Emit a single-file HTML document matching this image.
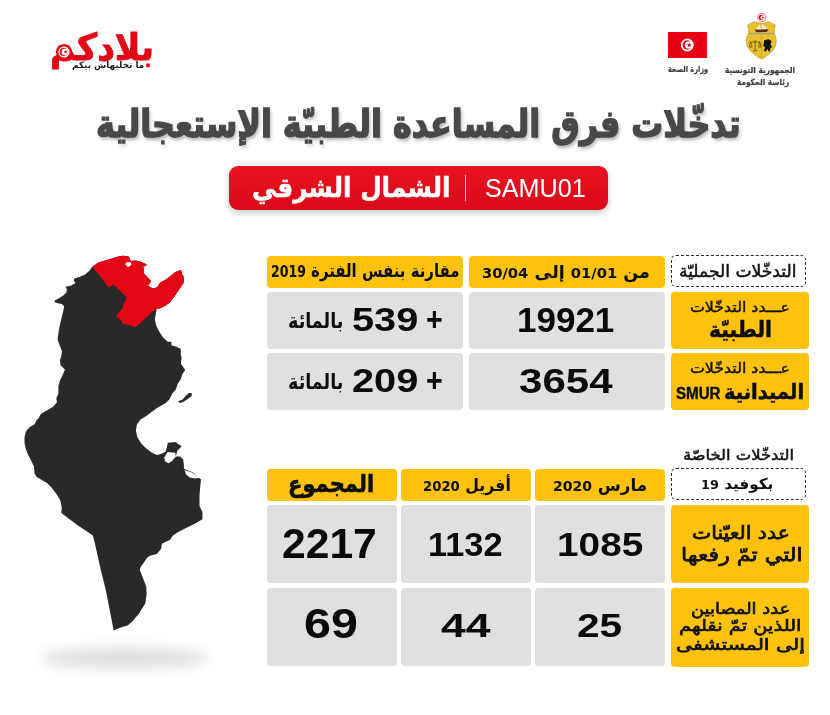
<!DOCTYPE html>
<html lang="ar">
<head>
<meta charset="utf-8">
<title>تدخّلات فرق المساعدة الطبيّة الإستعجالية</title>
<style>
*{margin:0;padding:0;box-sizing:border-box}
html,body{width:830px;height:715px;background:#fff;overflow:hidden}
body{position:relative;font-family:"Liberation Sans","DejaVu Sans",sans-serif;color:#111}
.abs{position:absolute}
.map{position:absolute;left:0;top:0}
.y{background:#fcc20e;border-radius:4px}
.g{background:#e0e0e0;border-radius:4px}
.dash{border:1px dashed #2a2a2a;border-radius:5px;background:#fff}
.t{position:absolute;white-space:nowrap;line-height:1.3;transform-origin:0 0}
.d{font-family:"DejaVu Sans","Liberation Sans",sans-serif;font-size:.84em;direction:ltr;unicode-bidi:isolate}
</style>
</head>
<body>
<svg class="map" width="830" height="715" viewBox="0 0 830 715">
<defs><filter id="bl" x="-30%" y="-150%" width="160%" height="400%"><feGaussianBlur stdDeviation="6.5"/></filter></defs>
<ellipse cx="125" cy="658" rx="84" ry="10" fill="#000" fill-opacity=".135" filter="url(#bl)"/>
<path fill="#292929" d="M92.3,266.7 L98.8,262.3 L106.0,260.2 L111.1,258.7 L118.3,256.6 L123.4,255.8 L128.4,256.6 L129.9,258.7 L130.6,260.9 L134.9,260.6 L139.3,261.2 L143.6,263.1 L146.8,264.5 L145.8,266.0 L142.2,266.7 L144.3,268.1 L143.6,270.3 L144.3,273.9 L147.9,277.5 L150.8,280.4 L150.1,283.3 L147.9,285.5 L150.8,287.6 L153.7,288.4 L157.3,286.9 L160.2,282.6 L165.3,279.7 L170.4,276.1 L174.7,272.5 L179.8,270.3 L181.9,271.0 L181.9,273.9 L183.4,276.1 L184.1,280.4 L183.4,283.3 L180.5,287.6 L176.9,292.7 L174.0,297.0 L171.1,300.7 L169.6,302.8 L165.3,305.7 L161.0,307.9 L156.6,309.3 L155.9,312.9 L155.2,317.3 L154.8,320.0 L156.3,325.8 L159.2,331.6 L162.8,337.3 L167.8,341.7 L171.4,341.7 L171.4,345.3 L176.5,346.7 L180.8,348.9 L180.8,354.7 L181.6,358.3 L180.8,363.4 L185.2,369.9 L182.3,374.2 L180.8,379.3 L177.9,383.6 L175.8,389.4 L172.2,393.7 L169.3,399.5 L165.7,403.1 L157.1,408.0 L151.3,412.3 L146.3,416.0 L140.5,419.6 L136.9,424.6 L135.9,430.4 L137.3,436.9 L141.2,443.4 L146.3,448.5 L152.0,452.8 L157.1,455.0 L162.2,453.6 L165.8,451.4 L167.9,442.7 L175.2,442.0 L181.7,446.3 L177.3,450.7 L175.9,456.4 L180.2,456.4 L183.1,459.3 L183.9,464.4 L183.9,468.7 L192.5,472.3 L200.5,478.9 L201.0,479.4 L200.2,487.3 L199.5,496.0 L199.5,506.1 L202.4,511.9 L202.4,519.2 L195.2,523.5 L186.5,527.8 L177.8,532.2 L172.8,535.8 L169.9,540.1 L164.8,542.3 L161.9,543.7 L161.2,548.8 L156.9,553.9 L148.9,556.0 L149.9,555.7 L147.0,557.8 L144.1,562.2 L140.5,567.2 L139.8,570.1 L141.9,575.2 L144.1,581.0 L146.3,586.7 L146.6,594.4 L145.4,603.3 L139.0,613.4 L132.7,621.0 L127.7,625.5 L121.3,627.3 L113.7,630.6 L105.8,589.9 L103.6,581.0 L100.7,569.4 L97.8,556.4 L94.9,543.4 L92.8,535.4 L86.3,531.1 L77.6,525.3 L68.9,518.8 L61.4,513.0 L61.7,507.2 L60.2,500.0 L59.9,499.5 L56.3,493.7 L51.9,487.9 L47.6,483.6 L41.8,480.0 L36.7,477.1 L34.6,473.5 L33.9,466.3 L31.0,460.5 L28.1,454.7 L25.9,448.9 L24.5,443.1 L24.5,437.3 L25.9,431.6 L29.5,427.2 L34.6,424.3 L36.7,420.0 L38.2,418.8 L41.1,413.7 L47.6,410.1 L53.4,406.5 L57.0,402.2 L56.3,398.6 L58.4,393.5 L58.4,386.3 L59.9,380.5 L62.8,374.7 L64.9,369.6 L60.6,365.3 L59.9,360.2 L61.3,355.9 L62.0,351.6 L59.9,345.8 L57.7,340.0 L57.9,336.6 L59.0,329.4 L60.5,322.2 L61.9,316.4 L63.4,310.6 L64.1,306.3 L61.9,304.1 L59.0,303.4 L54.7,302.2 L54.7,300.5 L59.0,298.3 L63.4,295.4 L66.3,292.5 L67.0,289.6 L65.5,286.7 L70.6,285.7 L75.7,283.1 L73.8,281.0 L74.2,278.5 L79.3,277.1 L85.1,274.5 L89.4,270.8Z"/>
<path fill="#292929" d="M177.9,401.2 L182.3,399.8 L185.2,396.6 L188.8,393.0 L191.7,393.0 L191.7,395.9 L188.1,398.8 L183.7,401.7 L180.1,403.1Z"/>
<path fill="#fff" d="M167.7,452.1 L175.2,452.8 L175.9,456.4 L172.3,460.8 L168.7,463.2 L165.1,461.5 L164.3,457.2Z"/>
<path fill="#fff" d="M184.6,469.9 L191.8,472.5 L199.8,477.7 L195.4,478.6 L189.6,477.4 L186.0,474.2Z"/>
<path fill="#e30615" d="M92.3,266.7 L98.8,262.3 L106.0,260.2 L111.1,258.7 L118.3,256.6 L123.4,255.8 L128.4,256.6 L129.9,258.7 L130.6,260.9 L134.9,260.6 L139.3,261.2 L143.6,263.1 L146.8,264.5 L145.8,266.0 L142.2,266.7 L144.3,268.1 L143.6,270.3 L144.3,273.9 L147.9,277.5 L150.8,280.4 L150.1,283.3 L147.9,285.5 L150.8,287.6 L153.7,288.4 L157.3,286.9 L160.2,282.6 L165.3,279.7 L170.4,276.1 L174.7,272.5 L179.8,270.3 L181.9,271.0 L181.9,273.9 L183.4,276.1 L184.1,280.4 L183.4,283.3 L180.5,287.6 L176.9,292.7 L174.0,297.0 L171.1,300.7 L169.6,302.8 L165.3,305.7 L161.0,307.9 L156.6,309.3 L152.3,311.5 L149.4,314.4 L145.8,318.0 L142.2,321.6 L137.8,325.2 L134.9,327.4 L130.6,325.2 L126.3,324.5 L122.6,323.8 L121.2,320.2 L116.1,316.6 L118.3,312.9 L121.9,309.3 L123.4,304.3 L126.3,299.2 L126.3,297.0 L122.6,293.4 L119.0,289.8 L114.7,285.5 L112.5,284.8 L109.6,287.6 L107.5,286.2 L103.9,281.1 L100.2,276.1 L95.9,271.0Z"/>
<path fill="#fff" d="M125.5,263.1 L127.7,262.1 L131.3,262.6 L131.3,264.5 L129.2,266.7 L127.0,266.4 L125.5,264.5Z"/>
</svg>
<!-- top-right logos -->
<svg class="abs" style="left:668px;top:32px" width="39" height="26" viewBox="0 0 39 26">
<rect width="39" height="26" fill="#e70013"/>
<circle cx="19.3" cy="13" r="6.4" fill="#fff"/>
<circle cx="19.3" cy="13" r="4.7" fill="#e70013"/>
<circle cx="20.6" cy="13" r="3.7" fill="#fff"/>
<path fill="#e70013" d="M21.2,10.4 L21.9,12.2 L23.8,12.2 L22.3,13.4 L22.9,15.3 L21.2,14.2 L19.6,15.3 L20.2,13.4 L18.7,12.2 L20.6,12.2Z"/>
</svg>
<svg class="abs" style="left:735px;top:5px" width="60" height="60" viewBox="0 0 715 715">
<circle cx="320" cy="150" r="48" fill="#fff" stroke="#ea3a4d" stroke-width="9"/>
<circle cx="316" cy="150" r="33" fill="#e70013"/>
<circle cx="328" cy="150" r="25" fill="#fff"/>
<circle cx="331" cy="150" r="11" fill="#e70013"/>
<path d="M150,240 L175,225 L230,200 L270,210 L320,222 L370,210 L400,200 L455,225 L480,240 L470,290 L468,330 L485,380 L492,430 L482,490 L450,545 L400,590 L350,625 L315,642 L280,625 L230,590 L180,545 L145,490 L133,430 L140,380 L163,330 L160,290Z" fill="#e8c02f" stroke="#c2a335" stroke-width="9" stroke-linejoin="round"/>
<path d="M245,288 L298,232 L308,288Z M316,288 L322,226 L398,282Z" fill="#e6e8ee"/>
<path d="M232,294 L398,290 L380,322 L256,324Z" fill="#5b2e1c"/>
<rect x="166" y="332" width="300" height="17" fill="#9aa385"/>
<path d="M315,352 L315,636" stroke="#b99c2e" stroke-width="7"/>
<path d="M185,440 L295,440 M240,418 L240,542 M185,440 L168,500 L206,500Z M295,440 L278,500 L314,500Z M214,546 L266,546" stroke="#2a2412" stroke-width="7" fill="none"/>
<path d="M345,420 L400,408 L436,430 L424,470 L440,500 L420,522 L416,556 L394,546 L386,520 L366,556 L344,546 L356,506 L334,480 L346,455Z" fill="#141210"/>
</svg>
<!-- emblem on top-left logo -->
<svg class="abs" style="left:54px;top:41.5px;z-index:5" width="20" height="20" viewBox="0 0 20 20">
<circle cx="10" cy="10" r="8" fill="#e30615"/>
<circle cx="10" cy="10" r="5.6" fill="#fff"/>
<circle cx="9.7" cy="10" r="4.1" fill="#e30615"/>
<circle cx="10.8" cy="10" r="3.2" fill="#fff"/>
<path fill="#e30615" d="M11.6,7.9 L12.1,9.3 L13.6,9.3 L12.4,10.2 L12.9,11.7 L11.6,10.8 L10.3,11.7 L10.8,10.2 L9.6,9.3 L11.1,9.3Z"/>
</svg>

<!-- red pill -->
<div class="abs" style="left:229px;top:166px;width:379px;height:44px;border-radius:9px;background:linear-gradient(#e9131f,#d90a1b);box-shadow:0 3px 6px rgba(0,0,0,.22)"></div>
<div class="abs" style="left:465px;top:175px;width:1px;height:26px;background:rgba(255,255,255,.75)"></div>
<!-- table 1 -->
<div class="abs dash" style="left:671px;top:255px;width:134.5px;height:32px"></div>
<div class="abs y" style="left:469px;top:255.5px;width:195.5px;height:32px"></div>
<div class="abs y" style="left:267px;top:255.5px;width:195.5px;height:32px"></div>
<div class="abs y" style="left:670.5px;top:291.5px;width:138px;height:57px"></div>
<div class="abs g" style="left:469px;top:291.5px;width:195.5px;height:57px"></div>
<div class="abs g" style="left:267px;top:291.5px;width:195.5px;height:57px"></div>
<div class="abs y" style="left:670.5px;top:352.5px;width:138px;height:57px"></div>
<div class="abs g" style="left:469px;top:352.5px;width:195.5px;height:57px"></div>
<div class="abs g" style="left:267px;top:352.5px;width:195.5px;height:57px"></div>
<!-- table 2 -->
<div class="abs dash" style="left:671px;top:468px;width:135px;height:32px"></div>
<div class="abs y" style="left:535px;top:468.5px;width:129.5px;height:32px"></div>
<div class="abs y" style="left:401px;top:468.5px;width:129.5px;height:32px"></div>
<div class="abs y" style="left:267px;top:468.5px;width:129.5px;height:32px"></div>
<div class="abs y" style="left:670.5px;top:505px;width:138.5px;height:78px"></div>
<div class="abs g" style="left:535px;top:505px;width:129.5px;height:78px"></div>
<div class="abs g" style="left:401px;top:505px;width:129.5px;height:78px"></div>
<div class="abs g" style="left:267px;top:505px;width:129.5px;height:78px"></div>
<div class="abs y" style="left:670.5px;top:587.5px;width:138.5px;height:79px"></div>
<div class="abs g" style="left:535px;top:587.5px;width:129.5px;height:78.5px"></div>
<div class="abs g" style="left:401px;top:587.5px;width:129.5px;height:78.5px"></div>
<div class="abs g" style="left:267px;top:587.5px;width:129.5px;height:78.5px"></div>
<div class="t" id="logo" style="left:49.50px;top:24.00px;font-family:'DejaVu Sans','Liberation Sans',sans-serif;font-size:37px;font-weight:bold;color:#e30615;direction:rtl;-webkit-text-stroke:1px #e30615;transform:scaleX(0.9326);">بلادكم</div>
<div class="t" id="tag" style="left:71.50px;top:59.50px;font-family:'DejaVu Sans','Liberation Sans',sans-serif;font-size:9px;font-weight:bold;color:#1c1c1c;direction:rtl;transform:scaleX(0.9819);">ما تخليهاش بيكم</div>
<div class="t" id="min" style="left:668.40px;top:64.30px;font-family:'DejaVu Sans','Liberation Sans',sans-serif;font-size:8.5px;font-weight:bold;color:#3a3a3a;direction:rtl;-webkit-text-stroke:.2px #3a3a3a;transform:scaleX(0.7751);">وزارة الصحة</div>
<div class="t" id="rep1" style="left:724.80px;top:64.80px;font-family:'DejaVu Sans','Liberation Sans',sans-serif;font-size:8.5px;font-weight:bold;color:#3a3a3a;direction:rtl;-webkit-text-stroke:.2px #3a3a3a;transform:scaleX(0.8713);">الجمهورية التونسية</div>
<div class="t" id="rep2" style="left:736.70px;top:76.80px;font-family:'DejaVu Sans','Liberation Sans',sans-serif;font-size:8.5px;font-weight:bold;color:#3a3a3a;direction:rtl;-webkit-text-stroke:.2px #3a3a3a;transform:scaleX(0.8587);">رئاسة الحكومة</div>
<div class="t" id="title" style="left:96.40px;top:100.00px;font-family:'DejaVu Sans','Liberation Sans',sans-serif;font-size:38px;font-weight:bold;color:#484848;direction:rtl;-webkit-text-stroke:1.5px #484848;text-shadow:2px 3px 4px rgba(0,0,0,.30);transform:scaleX(0.8365);">تدخّلات فرق المساعدة الطبيّة الإستعجالية</div>
<div class="t" id="region" style="left:252.00px;top:169.80px;font-family:'DejaVu Sans','Liberation Sans',sans-serif;font-size:27px;font-weight:bold;color:#fff;direction:rtl;-webkit-text-stroke:.5px #fff;transform:scaleX(0.9160);">الشمال الشرقي</div>
<div class="t" id="samu" style="left:485.00px;top:171.30px;font-family:'Liberation Sans','DejaVu Sans',sans-serif;font-size:26.5px;font-weight:normal;color:#fff;direction:ltr;transform:scaleX(0.9496);">SAMU01</div>
<div class="t" id="h1a" style="left:678.50px;top:259.60px;font-family:'DejaVu Sans','Liberation Sans',sans-serif;font-size:17px;font-weight:normal;color:#111;direction:rtl;-webkit-text-stroke:.5px #111;transform:scaleX(1.0078);">التدخّلات الجمليّة</div>
<div class="t" id="h1b" style="left:482.30px;top:261.40px;font-family:'DejaVu Sans','Liberation Sans',sans-serif;font-size:17px;font-weight:bold;color:#0d0d0d;direction:rtl;transform:scaleX(1.0310);">من <span class="d">01/01</span> إلى <span class="d">30/04</span></div>
<div class="t" id="h1c" style="left:270.50px;top:258.90px;font-family:'DejaVu Sans','Liberation Sans',sans-serif;font-size:18px;font-weight:bold;color:#0d0d0d;direction:rtl;transform:scaleX(0.8292);">مقارنة بنفس الفترة <span class="d">2019</span></div>
<div class="t" id="l1a" style="left:690.00px;top:298.00px;font-family:'DejaVu Sans','Liberation Sans',sans-serif;font-size:14px;font-weight:normal;color:#111;direction:rtl;-webkit-text-stroke:.4px #111;transform:scaleX(1.1285);">عـــدد التدخّلات</div>
<div class="t" id="l1b" style="left:708.70px;top:316.20px;font-family:'DejaVu Sans','Liberation Sans',sans-serif;font-size:22px;font-weight:bold;color:#0d0d0d;direction:rtl;-webkit-text-stroke:.5px #0d0d0d;transform:scaleX(0.9176);">الطبيّة</div>
<div class="t" id="l2a" style="left:690.00px;top:358.90px;font-family:'DejaVu Sans','Liberation Sans',sans-serif;font-size:14px;font-weight:normal;color:#111;direction:rtl;-webkit-text-stroke:.4px #111;transform:scaleX(1.1285);">عـــدد التدخّلات</div>
<div class="t" id="l2b" style="left:723.60px;top:379.00px;font-family:'DejaVu Sans','Liberation Sans',sans-serif;font-size:20.5px;font-weight:bold;color:#0d0d0d;direction:rtl;-webkit-text-stroke:.5px #0d0d0d;transform:scaleX(0.9513);">الميدانية</div>
<div class="t" id="l2c" style="left:675.50px;top:384.00px;font-family:'Liberation Sans','DejaVu Sans',sans-serif;font-size:15.8px;font-weight:bold;color:#0d0d0d;direction:ltr;-webkit-text-stroke:.4px #0d0d0d;transform:scaleX(0.9567);">SMUR</div>
<div class="t" id="v1" style="left:517.19px;top:297.80px;font-family:'Liberation Sans','DejaVu Sans',sans-serif;font-size:34.5px;font-weight:bold;color:#0b0b0b;direction:ltr;transform:scaleX(1.0144);">19921</div>
<div class="t" id="v2" style="left:519.19px;top:358.50px;font-family:'Liberation Sans','DejaVu Sans',sans-serif;font-size:34.5px;font-weight:bold;color:#0b0b0b;direction:ltr;transform:scaleX(1.2197);">3654</div>
<div class="t" id="p1n" style="left:351.51px;top:297.10px;font-family:'Liberation Sans','DejaVu Sans',sans-serif;font-size:34.0px;font-weight:bold;color:#0b0b0b;direction:ltr;transform:scaleX(1.1681);">539</div>
<div class="t" id="p1p" style="left:426.00px;top:299.10px;font-family:'Liberation Sans','DejaVu Sans',sans-serif;font-size:33px;font-weight:bold;color:#0b0b0b;direction:ltr;transform:scaleX(0.8713);">+</div>
<div class="t" id="p1t" style="left:287.90px;top:307.50px;font-family:'DejaVu Sans','Liberation Sans',sans-serif;font-size:21px;font-weight:bold;color:#0d0d0d;direction:rtl;transform:scaleX(0.8362);">بالمائة</div>
<div class="t" id="p2n" style="left:351.51px;top:358.10px;font-family:'Liberation Sans','DejaVu Sans',sans-serif;font-size:34.0px;font-weight:bold;color:#0b0b0b;direction:ltr;transform:scaleX(1.1681);">209</div>
<div class="t" id="p2p" style="left:426.00px;top:360.10px;font-family:'Liberation Sans','DejaVu Sans',sans-serif;font-size:33px;font-weight:bold;color:#0b0b0b;direction:ltr;transform:scaleX(0.8713);">+</div>
<div class="t" id="p2t" style="left:287.90px;top:368.50px;font-family:'DejaVu Sans','Liberation Sans',sans-serif;font-size:21px;font-weight:bold;color:#0d0d0d;direction:rtl;transform:scaleX(0.8362);">بالمائة</div>
<div class="t" id="t2t" style="left:682.70px;top:446.20px;font-family:'DejaVu Sans','Liberation Sans',sans-serif;font-size:14.5px;font-weight:normal;color:#111;direction:rtl;-webkit-text-stroke:.5px #111;transform:scaleX(1.1255);">التدخّلات الخاصّة</div>
<div class="t" id="t2d" style="left:701.10px;top:475.20px;font-family:'DejaVu Sans','Liberation Sans',sans-serif;font-size:15px;font-weight:bold;color:#0d0d0d;direction:rtl;transform:scaleX(1.0165);">بكوفيد <span class="d">19</span></div>
<div class="t" id="h2a" style="left:553.40px;top:473.50px;font-family:'DejaVu Sans','Liberation Sans',sans-serif;font-size:17px;font-weight:bold;color:#0d0d0d;direction:rtl;transform:scaleX(0.9823);">مارس <span class="d">2020</span></div>
<div class="t" id="h2b" style="left:423.20px;top:473.50px;font-family:'DejaVu Sans','Liberation Sans',sans-serif;font-size:17px;font-weight:bold;color:#0d0d0d;direction:rtl;transform:scaleX(0.9268);">أفريل <span class="d">2020</span></div>
<div class="t" id="h2c" style="left:288.30px;top:468.60px;font-family:'DejaVu Sans','Liberation Sans',sans-serif;font-size:24px;font-weight:bold;color:#0d0d0d;direction:rtl;-webkit-text-stroke:.6px #0d0d0d;transform:scaleX(0.8772);">المجموع</div>
<div class="t" id="m1a" style="left:692.20px;top:521.40px;font-family:'DejaVu Sans','Liberation Sans',sans-serif;font-size:18.5px;font-weight:normal;color:#111;direction:rtl;-webkit-text-stroke:.75px #111;transform:scaleX(1.1014);">عدد العيّنات</div>
<div class="t" id="m1b" style="left:680.80px;top:542.70px;font-family:'DejaVu Sans','Liberation Sans',sans-serif;font-size:18.5px;font-weight:normal;color:#111;direction:rtl;-webkit-text-stroke:.75px #111;transform:scaleX(1.1946);">التي تمّ رفعها</div>
<div class="t" id="m2a" style="left:690.80px;top:598.80px;font-family:'DejaVu Sans','Liberation Sans',sans-serif;font-size:16px;font-weight:normal;color:#111;direction:rtl;-webkit-text-stroke:.65px #111;transform:scaleX(1.1154);">عدد المصابين</div>
<div class="t" id="m2b" style="left:678.90px;top:616.40px;font-family:'DejaVu Sans','Liberation Sans',sans-serif;font-size:16px;font-weight:normal;color:#111;direction:rtl;-webkit-text-stroke:.65px #111;transform:scaleX(1.2153);">اللذين تمّ نقلهم</div>
<div class="t" id="m2c" style="left:675.50px;top:635.00px;font-family:'DejaVu Sans','Liberation Sans',sans-serif;font-size:16px;font-weight:normal;color:#111;direction:rtl;-webkit-text-stroke:.65px #111;transform:scaleX(1.2747);">إلى المستشفى</div>
<div class="t" id="n1" style="left:556.51px;top:521.70px;font-family:'Liberation Sans','DejaVu Sans',sans-serif;font-size:34.0px;font-weight:bold;color:#0b0b0b;direction:ltr;transform:scaleX(1.1405);">1085</div>
<div class="t" id="n2" style="left:428.21px;top:521.70px;font-family:'Liberation Sans','DejaVu Sans',sans-serif;font-size:34.0px;font-weight:bold;color:#0b0b0b;direction:ltr;transform:scaleX(1.0109);">1132</div>
<div class="t" id="n3" style="left:282.11px;top:515.20px;font-family:'Liberation Sans','DejaVu Sans',sans-serif;font-size:43.3px;font-weight:bold;color:#0b0b0b;direction:ltr;transform:scaleX(0.9839);">2217</div>
<div class="t" id="n4" style="left:576.72px;top:602.60px;font-family:'Liberation Sans','DejaVu Sans',sans-serif;font-size:34.0px;font-weight:bold;color:#0b0b0b;direction:ltr;transform:scaleX(1.1941);">25</div>
<div class="t" id="n5" style="left:440.71px;top:602.60px;font-family:'Liberation Sans','DejaVu Sans',sans-serif;font-size:34.0px;font-weight:bold;color:#0b0b0b;direction:ltr;transform:scaleX(1.3104);">44</div>
<div class="t" id="n6" style="left:303.61px;top:594.90px;font-family:'Liberation Sans','DejaVu Sans',sans-serif;font-size:43.3px;font-weight:bold;color:#0b0b0b;direction:ltr;transform:scaleX(1.1185);">69</div>
</body>
</html>
